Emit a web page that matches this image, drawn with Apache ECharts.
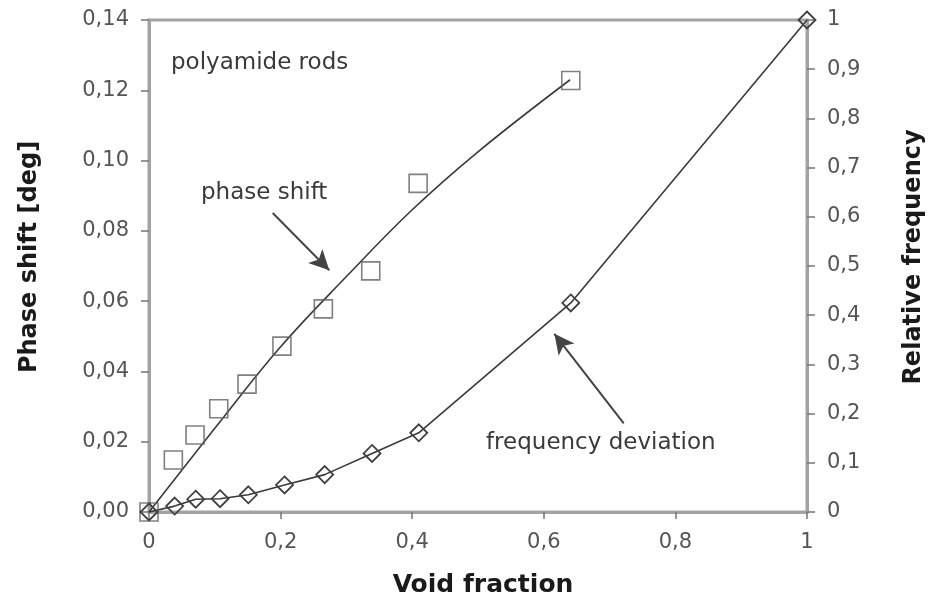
<!DOCTYPE html>
<html>
<head>
<meta charset="utf-8">
<script src="https://cdn.jsdelivr.net/npm/echarts@6/dist/echarts.min.js"></script>
<style>html,body{margin:0;padding:0;background:#fff}#c{width:934px;height:604px}</style>
</head>
<body>
<div id="c"></div>
<script>
// ---- data ----
const xTicks = [0, 0.2, 0.4, 0.6, 0.8, 1];
const leftTicks = [0, 0.02, 0.04, 0.06, 0.08, 0.10, 0.12, 0.14];
const rightTicks = [0, 0.1, 0.2, 0.3, 0.4, 0.5, 0.6, 0.7, 0.8, 0.9, 1];

const phaseX = [0, 0.037, 0.070, 0.106, 0.149, 0.202, 0.265, 0.337, 0.409, 0.641];
const phaseY = [0, 0.0148, 0.0219, 0.0294, 0.0364, 0.0472, 0.0578, 0.0686, 0.0935, 0.1228];

const phaseFitX = [0, 0.1, 0.2, 0.3, 0.4, 0.5, 0.64];
const phaseFitY = [0, 0.0238, 0.047, 0.067, 0.086, 0.1025, 0.123];

const freqX = [0, 0.039, 0.071, 0.108, 0.151, 0.206, 0.267, 0.339, 0.410, 0.641, 1];
const freqY = [0, 0.012, 0.026, 0.027, 0.035, 0.055, 0.076, 0.119, 0.161, 0.425, 1];

const fmt = v => String(v).replace('.', ',');
const fmt2 = v => v.toFixed(2).replace('.', ',');

const zip = (a, b) => a.map((v, i) => [v, b[i]]);

const chart = echarts.init(document.getElementById('c'), null, {renderer: 'canvas'});
const FONT = 'DejaVu Sans';
const axisGray = '#a3a3a3';
chart.setOption({
  animation: false,
  backgroundColor: '#fff',
  grid: {left: 149, right: 116, top: 20, bottom: 92, show: true, borderColor: axisGray, borderWidth: 3},
  xAxis: {
    type: 'value', min: 0, max: 1, interval: 0.2,
    name: 'Void fraction', nameLocation: 'middle', nameGap: 61,
    nameTextStyle: {fontFamily: FONT, fontWeight: 'bold', fontSize: 25, color: '#1a1a1a', padding: [0, 0, 0, 10]},
    axisLine: {lineStyle: {color: axisGray, width: 3}},
    axisTick: {show: true, inside: false, length: 7, lineStyle: {color: '#777', width: 1.5}},
    axisLabel: {fontFamily: FONT, fontSize: 21, color: '#555', margin: 20, formatter: fmt},
    splitLine: {show: false}
  },
  yAxis: [{
    type: 'value', min: 0, max: 0.14, interval: 0.02, position: 'left',
    name: 'Phase shift [deg]', nameLocation: 'middle', nameGap: 107, nameRotate: 90,
    nameTextStyle: {fontFamily: FONT, fontWeight: 'bold', fontSize: 24, color: '#1a1a1a', padding: [0, 0, 0, 18]},
    axisLine: {show: true, lineStyle: {color: axisGray, width: 3}},
    axisTick: {show: true, length: 8, lineStyle: {color: '#777', width: 1.5}},
    axisLabel: {fontFamily: FONT, fontSize: 21, color: '#555', margin: 20, formatter: fmt2},
    splitLine: {show: false}
  }, {
    type: 'value', min: 0, max: 1, interval: 0.1, position: 'right',
    name: 'Relative frequency', nameLocation: 'middle', nameGap: 95, nameRotate: 90,
    nameTextStyle: {fontFamily: FONT, fontWeight: 'bold', fontSize: 24, color: '#1a1a1a', padding: [0, 0, 0, 18]},
    axisLine: {show: true, lineStyle: {color: axisGray, width: 3}},
    axisTick: {show: true, length: 8, lineStyle: {color: '#777', width: 1.5}},
    axisLabel: {fontFamily: FONT, fontSize: 21, color: '#555', margin: 20, formatter: fmt},
    splitLine: {show: false}
  }],
  series: [{
    name: 'phase fit', type: 'line', yAxisIndex: 0, smooth: 0.4, symbol: 'none',
    data: zip(phaseFitX, phaseFitY), clip: false, z: 2,
    lineStyle: {color: '#3a3a3a', width: 1.6},
    markLine: {
      silent: true, symbol: ['none', 'arrow'], symbolSize: [15, 20],
      lineStyle: {color: '#444', width: 2, type: 'solid'},
      label: {show: false},
      data: [
        [{coord: [0.188, 0.0851]}, {coord: [0.274, 0.0688]}],
        [{coord: [0.7215, 0.0252]}, {coord: [0.616, 0.0507]}]
      ]
    }
  }, {
    name: 'phase shift', type: 'scatter', yAxisIndex: 0,
    symbol: 'rect', symbolSize: 18, clip: false, z: 3,
    itemStyle: {color: 'rgba(0,0,0,0)', borderColor: '#606060', borderWidth: 1.6},
    data: zip(phaseX, phaseY)
  }, {
    name: 'frequency deviation', type: 'line', yAxisIndex: 1, smooth: false,
    symbol: 'diamond', symbolSize: 17, showAllSymbol: true, clip: false, z: 3,
    lineStyle: {color: '#3a3a3a', width: 1.6},
    itemStyle: {color: 'rgba(0,0,0,0)', borderColor: '#404040', borderWidth: 1.8},
    data: zip(freqX, freqY)
  }],
  graphic: [
    {type: 'text', left: 171, top: 52, style: {text: 'polyamide rods', font: '23px "DejaVu Sans"', fill: '#3a3a3a'}},
    {type: 'text', left: 201, top: 182, style: {text: 'phase shift', font: '23px "DejaVu Sans"', fill: '#3a3a3a'}},
    {type: 'text', left: 486, top: 432, style: {text: 'frequency deviation', font: '23px "DejaVu Sans"', fill: '#3a3a3a'}}
  ]
});
</script>
</body>
</html>
